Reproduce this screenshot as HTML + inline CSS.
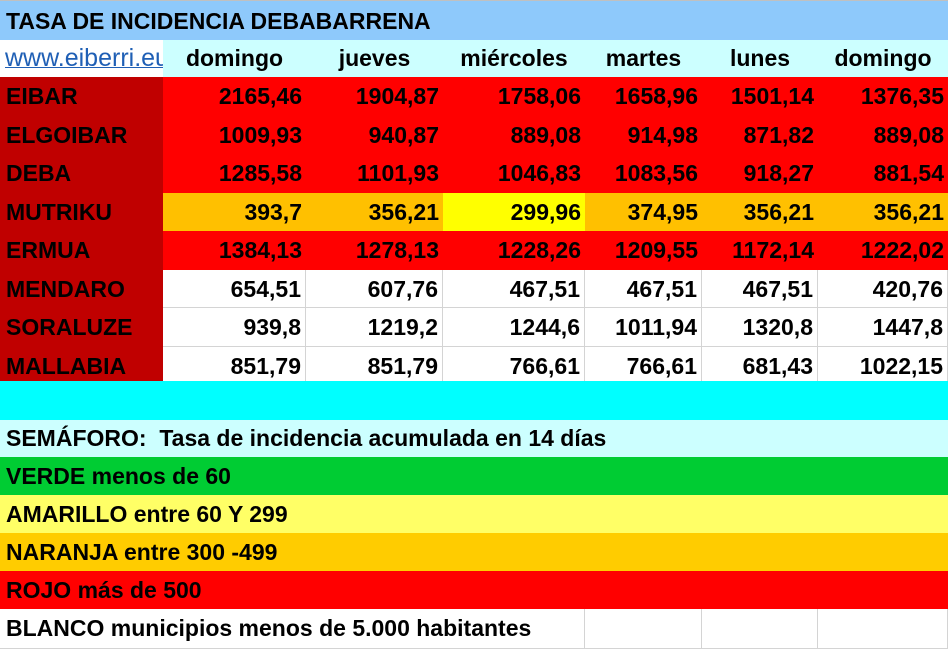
<!DOCTYPE html>
<html><head><meta charset="utf-8"><style>
body{margin:0;width:948px;height:649px;overflow:hidden;background:#fff;font-family:"Liberation Sans",sans-serif;font-weight:bold;color:#000}
.r{position:absolute;left:0;width:948px;height:38px}
.c{position:absolute;top:0;height:100%;box-sizing:border-box;font-size:23px;line-height:38px;white-space:nowrap;overflow:hidden}
.n{text-align:right;padding-right:4px}
.h{text-align:center}
.l{padding-left:6px}
.g{border-right:1px solid #d4d4d4;border-bottom:1px solid #d4d4d4}
</style></head><body>
<div class="r" style="top:0;height:40px;background:#8EC9FB;border-top:1px solid #c0c0c0;box-sizing:border-box"><div class="c l" style="left:0;width:948px;line-height:40px">TASA DE INCIDENCIA DEBABARRENA</div></div>
<div class="r" style="top:40px;height:37px;background:#CCFFFF">
<div class="c" style="left:0;width:163px;background:#fff;font-weight:normal;color:#1F5FB5;padding-left:5px;line-height:37px;font-size:25px;text-decoration:underline;text-decoration-thickness:1px">www.eiberri.eus</div>
<div class="c h" style="left:163px;width:143px;line-height:37px">domingo</div>
<div class="c h" style="left:306px;width:137px;line-height:37px">jueves</div>
<div class="c h" style="left:443px;width:142px;line-height:37px">miércoles</div>
<div class="c h" style="left:585px;width:117px;line-height:37px">martes</div>
<div class="c h" style="left:702px;width:116px;line-height:37px">lunes</div>
<div class="c h" style="left:818px;width:130px;line-height:37px">domingo</div>
</div>
<div id="rows"></div>
<div class="r" style="top:381px;height:39px;background:#00FFFF"></div>
<div class="r" style="top:420px;height:37px;background:#CCFFFF"><div class="c l" style="line-height:37px">SEMÁFORO:&nbsp; Tasa de incidencia acumulada en 14 días</div></div>
<div class="r" style="top:457px;background:#00CC33"><div class="c l">VERDE menos de 60</div></div>
<div class="r" style="top:495px;background:#FFFF66"><div class="c l">AMARILLO entre 60 Y 299</div></div>
<div class="r" style="top:533px;background:#FFCC00"><div class="c l">NARANJA entre 300 -499</div></div>
<div class="r" style="top:571px;background:#FF0000"><div class="c l">ROJO más de 500</div></div>
<div class="r" style="top:609px;height:40px;background:#fff">
<div class="c l" style="left:0;width:585px;border-bottom:1px solid #d4d4d4;border-right:1px solid #d4d4d4">BLANCO municipios menos de 5.000 habitantes</div>
<div class="c g" style="left:585px;width:117px"></div>
<div class="c g" style="left:702px;width:116px"></div>
<div class="c g" style="left:818px;width:130px"></div>
</div>
<script>
var X=[163,306,443,585,702,818,948];
var D=[["EIBAR","2165,46","1904,87","1758,06","1658,96","1501,14","1376,35","R"],
["ELGOIBAR","1009,93","940,87","889,08","914,98","871,82","889,08","R"],
["DEBA","1285,58","1101,93","1046,83","1083,56","918,27","881,54","R"],
["MUTRIKU","393,7","356,21","299,96","374,95","356,21","356,21","O"],
["ERMUA","1384,13","1278,13","1228,26","1209,55","1172,14","1222,02","R"],
["MENDARO","654,51","607,76","467,51","467,51","467,51","420,76","W"],
["SORALUZE","939,8","1219,2","1244,6","1011,94","1320,8","1447,8","W"],
["MALLABIA","851,79","851,79","766,61","766,61","681,43","1022,15","W"]];
var h="";
D.forEach(function(r,i){
 var top=77+i*38.5;
 h+='<div class="r" style="top:'+Math.round(top)+'px;height:'+(Math.round(top+38.5)-Math.round(top))+'px">';
 h+='<div class="c l" style="left:0;width:163px;background:#C00000">'+r[0]+'</div>';
 for(var j=1;j<=6;j++){
  var bg=r[7]=="R"?"#FF0000":r[7]=="O"?"#FFC000":"#fff";
  if(i==3&&j==3)bg="#FFFF00";
  var cls="c n"+(r[7]=="W"?" g":"");
  h+='<div class="'+cls+'" style="left:'+X[j-1]+'px;width:'+(X[j]-X[j-1])+'px;background:'+bg+'">'+r[j]+'</div>';
 }
 h+='</div>';
});
document.getElementById("rows").outerHTML=h;
</script>
</body></html>
